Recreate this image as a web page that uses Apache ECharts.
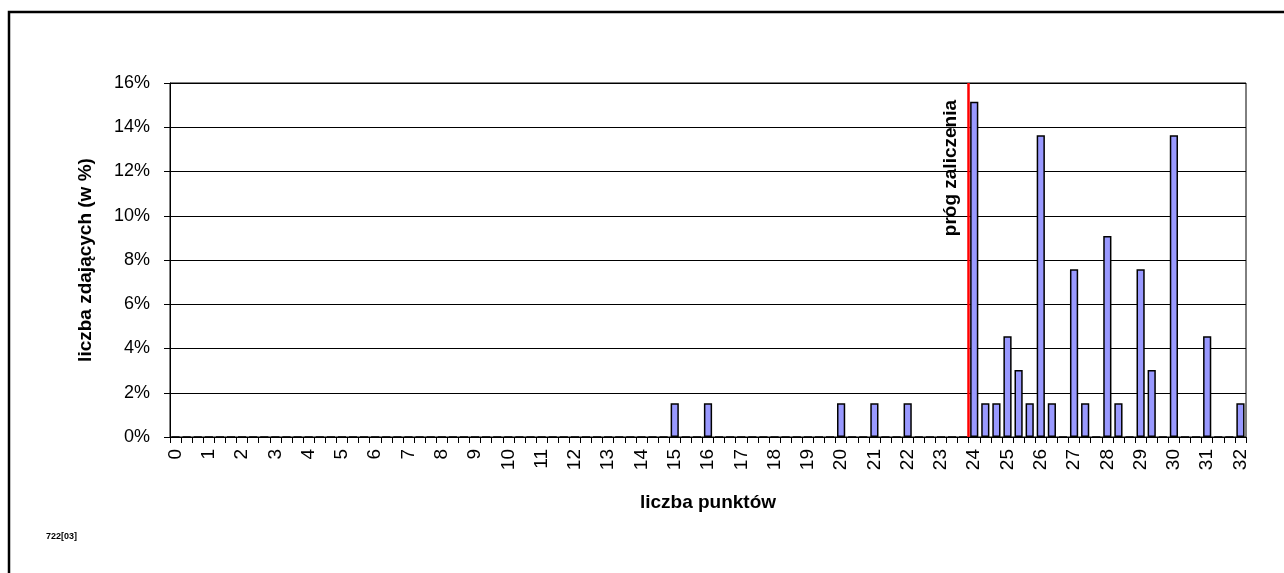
<!DOCTYPE html>
<html>
<head>
<meta charset="utf-8">
<script src="https://cdn.jsdelivr.net/npm/echarts@6/dist/echarts.min.js"></script>
<style>html,body{margin:0;padding:0;background:#fff}#c{width:1284px;height:573px}</style>
</head>
<body>
<div id="c"></div>
<script>
const categories = [
 '0','0,33','0,67','1','1,33','1,67','2','2,33','2,67','3','3,33','3,67',
 '4','4,33','4,67','5','5,33','5,67','6','6,33','6,67','7','7,33','7,67',
 '8','8,33','8,67','9','9,33','9,67','10','10,33','10,67','11','11,33','11,67',
 '12','12,33','12,67','13','13,33','13,67','14','14,33','14,67','15','15,33','15,67',
 '16','16,33','16,67','17','17,33','17,67','18','18,33','18,67','19','19,33','19,67',
 '20','20,33','20,67','21','21,33','21,67','22','22,33','22,67','23','23,33','23,67',
 '24','24,33','24,67','25','25,33','25,67','26','26,33','26,67','27','27,33','27,67',
 '28','28,33','28,67','29','29,33','29,67','30','30,33','30,67','31','31,33','31,67',
 '32'
];
const percentValues = [
 0,0,0, 0,0,0, 0,0,0, 0,0,0,
 0,0,0, 0,0,0, 0,0,0, 0,0,0,
 0,0,0, 0,0,0, 0,0,0, 0,0,0,
 0,0,0, 0,0,0, 0,0,0, 1.52,0,0,
 1.52,0,0, 0,0,0, 0,0,0, 0,0,0,
 1.52,0,0, 1.52,0,0, 1.52,0,0, 0,0,0,
 15.15,1.52,1.52, 4.55,3.03,1.52, 13.64,1.52,0, 7.58,1.52,0,
 9.09,1.52,0, 7.58,3.03,0, 13.64,0,0, 4.55,0,0,
 1.52
];
const yTicks = [0,2,4,6,8,10,12,14,16];
const thresholdCategory = '24';
const thresholdLabel = 'próg zaliczenia';
const xTitle = 'liczba punktów';
const yTitle = 'liczba zdających (w %)';
const footnote = '722[03]';

const FONT = '"Liberation Sans", Arial, sans-serif';
const chart = echarts.init(document.getElementById('c'), null, {renderer:'canvas'});
const thresholdIndex = categories.indexOf(thresholdCategory);

chart.setOption({
  animation: false,
  backgroundColor: '#fff',
  textStyle: {fontFamily: FONT},
  graphic: [
    {type:'rect', shape:{x:9, y:12, width:1400, height:700}, style:{fill:'none', stroke:'#000', lineWidth:2.5}, z:-1},
    {type:'text', left:46, top:532, style:{text:footnote, font:'bold 9px "Liberation Sans", Arial', fill:'#000'}}
  ],
  grid: {left:170, right:38, top:83, bottom:136, show:true, borderColor:'#000', borderWidth:1, containLabel:false},
  xAxis: [
    {
      type:'category', data:categories, boundaryGap:true,
      name:xTitle, nameLocation:'middle', nameGap:56,
      nameTextStyle:{fontFamily:FONT, fontWeight:'bold', fontSize:19, color:'#000'},
      axisLine:{lineStyle:{color:'#000', width:1}},
      axisTick:{show:true, interval:0, length:6, lineStyle:{color:'#000'}},
      axisLabel:{interval:2, rotate:90, margin:12, fontSize:19, color:'#000', fontFamily:FONT},
      splitLine:{show:false}
    },
    {type:'value', min:0, max:categories.length, show:false}
  ],
  yAxis: {
    type:'value', min:yTicks[0], max:yTicks[yTicks.length-1], interval:2,
    name:yTitle, nameLocation:'middle', nameGap:75,
    nameTextStyle:{fontFamily:FONT, fontWeight:'bold', fontSize:19, color:'#000'},
    axisLine:{show:true, lineStyle:{color:'#000'}},
    axisTick:{show:true, length:6, lineStyle:{color:'#000'}},
    axisLabel:{formatter:'{value}%', fontSize:18, color:'#000', margin:20, fontFamily:FONT},
    splitLine:{show:true, lineStyle:{color:'#000', width:1}}
  },
  series: [
    {
      type:'bar', xAxisIndex:0, data:percentValues, barWidth:'74%',
      itemStyle:{color:'#9999FF', borderColor:'#000', borderWidth:1.5}
    },
    {
      type:'line', xAxisIndex:1, data:[], silent:true,
      markLine:{
        symbol:'none', silent:true, animation:false,
        lineStyle:{color:'#FF0000', width:2.5, type:'solid'},
        label:{show:true, formatter:thresholdLabel, position:'insideEndTop', distance:[17,8],
               fontFamily:FONT, fontWeight:'bold', fontSize:19, color:'#000'},
        data:[{xAxis:thresholdIndex}]
      }
    }
  ]
});
</script>
</body>
</html>
